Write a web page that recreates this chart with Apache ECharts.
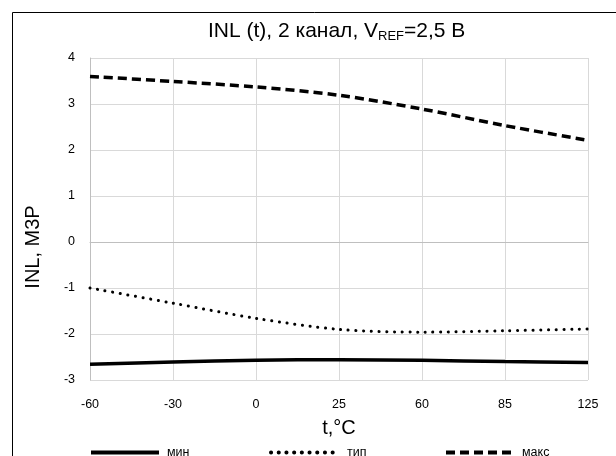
<!DOCTYPE html>
<html><head><meta charset="utf-8">
<script src="https://cdn.jsdelivr.net/npm/echarts@6/dist/echarts.min.js"></script>
<style>html,body{margin:0;padding:0;background:#fff}#c{width:616px;height:456px}</style>
</head><body><div id="c"></div>
<script>
const categories = ['-60', '-30', '0', '25', '60', '85', '125'];
const yTicks = [-3, -2, -1, 0, 1, 2, 3, 4];
const minValues = [-2.66, -2.61, -2.57, -2.56, -2.57, -2.6, -2.62];
const typValues = [-1.0, -1.33, -1.66, -1.9, -1.96, -1.93, -1.89];
const maxValues = [3.6, 3.49, 3.37, 3.19, 2.89, 2.53, 2.21];
const seriesNames = ['мин', 'тип', 'макс'];

const chart = echarts.init(document.getElementById('c'), null, {renderer: 'canvas'});
const font = 'Liberation Sans, Arial, sans-serif';
const legendBase = {
  bottom: -3, padding: 0, itemWidth: 68, itemHeight: 10,
  textStyle: {fontFamily: font, fontSize: 12.5, color: '#000', padding: [0, 0, 0, 3]},
  itemStyle: {opacity: 0},
  lineStyle: {width: 4}
};
chart.setOption({
  animation: false,
  backgroundColor: '#fff',
  graphic: [
    {type: 'rect', shape: {x: 12.5, y: 12.5, width: 620, height: 460}, style: {fill: 'none', stroke: '#000', lineWidth: 1}, z: -1},
    {type: 'text', x: 33, y: 247, rotation: Math.PI / 2, style: {text: 'INL, М3Р', font: '20px Liberation Sans, Arial, sans-serif', fill: '#000', textAlign: 'center', textVerticalAlign: 'middle'}}
  ],
  title: {
    text: '{a|INL (t), 2 канал, V}{s|REF}{a|=2,5 В}',
    left: 203, top: 14,
    textStyle: {fontWeight: 'normal', rich: {a: {fontFamily: font, fontSize: 21, fontWeight: 'normal', color: '#000'}, s: {fontFamily: font, fontSize: 13, fontWeight: 'normal', color: '#000', padding: [11, 0, 0, 0]}}}
  },
  grid: {left: 90, right: 28, top: 58, bottom: 76},
  legend: [
    Object.assign({}, legendBase, {left: 89, data: [seriesNames[0]]}),
    Object.assign({}, legendBase, {left: 269, data: [seriesNames[1]]}),
    Object.assign({}, legendBase, {left: 444, data: [seriesNames[2]]})
  ],
  xAxis: {
    type: 'category', data: categories, boundaryGap: false,
    name: 't,°C', nameLocation: 'middle', nameGap: 38,
    nameTextStyle: {fontFamily: font, fontSize: 20, color: '#000'},
    axisLine: {lineStyle: {color: '#bfbfbf', width: 1}},
    axisTick: {show: false},
    axisLabel: {fontFamily: font, fontSize: 12.5, color: '#000', margin: 18},
    splitLine: {show: true, lineStyle: {color: '#d9d9d9', width: 1}}
  },
  yAxis: {
    type: 'value', min: yTicks[0], max: yTicks[yTicks.length - 1], interval: 1,
    axisLine: {show: true, lineStyle: {color: '#bfbfbf', width: 1}},
    axisTick: {show: false},
    axisLabel: {fontFamily: font, fontSize: 12.5, color: '#000', margin: 15},
    splitLine: {show: true, lineStyle: {color: '#d9d9d9', width: 1}}
  },
  series: [
    {name: seriesNames[0], type: 'line', data: minValues, smooth: 0.3, symbol: 'none',
     lineStyle: {color: '#000', width: 3.5, type: 'solid'}, itemStyle: {color: '#000'}},
    {name: seriesNames[1], type: 'line', data: typValues, smooth: 0.3, symbol: 'none',
     lineStyle: {color: '#000', width: 3, type: [0.1, 7.6], cap: 'round'}, itemStyle: {color: '#000'}},
    {name: seriesNames[2], type: 'line', data: maxValues, smooth: 0.3, symbol: 'none',
     lineStyle: {color: '#000', width: 3.5, type: [9, 5]}, itemStyle: {color: '#000'}}
  ]
});
</script></body></html>
